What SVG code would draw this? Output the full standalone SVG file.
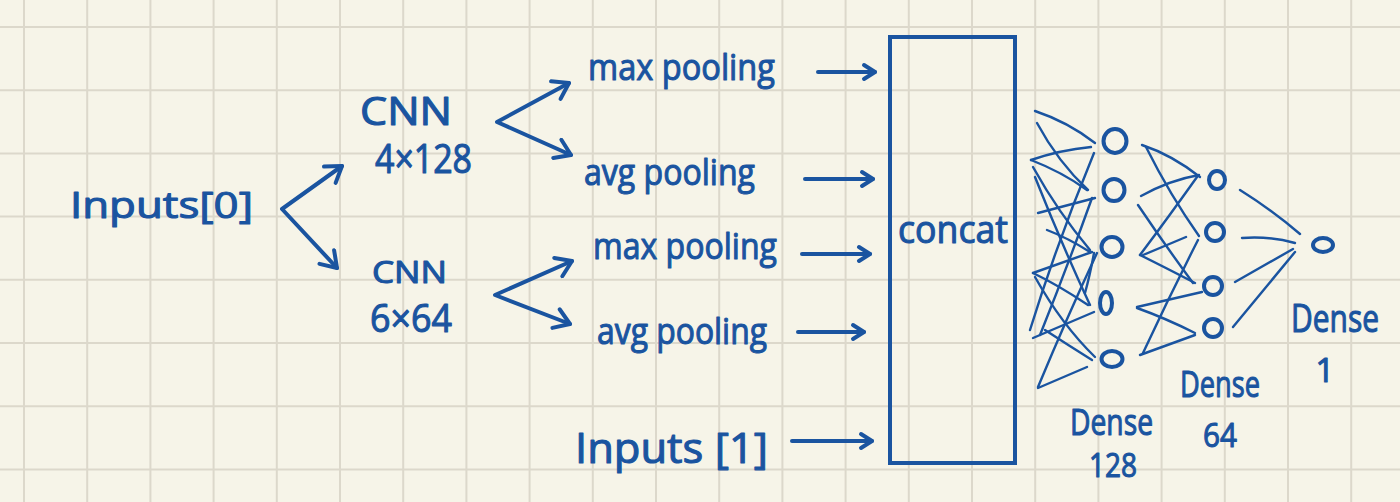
<svg xmlns="http://www.w3.org/2000/svg" width="1400" height="502" viewBox="0 0 1400 502">
<defs>
<style>
.grid line{stroke:#dcd8cb;stroke-width:2}
.ink{fill:none;stroke:#1a54a0;stroke-linecap:round;stroke-linejoin:round}
.arr{stroke-width:4}
.net{stroke-width:2.4}
.node{fill:none;stroke:#1a54a0;stroke-width:4}
text{font-family:"Open Sans","Liberation Sans",sans-serif;fill:#1a54a0;stroke:#1a54a0;stroke-width:1.1;stroke-linejoin:round}
</style>
<marker id="big" markerUnits="userSpaceOnUse" viewBox="0 0 24 24" refX="20" refY="12" markerWidth="24" markerHeight="24" orient="auto-start-reverse">
<path d="M5,2 L20,12 L5,22" fill="none" stroke="#1a54a0" stroke-width="4" stroke-linecap="round" stroke-linejoin="round"/>
</marker>
<marker id="small" markerUnits="userSpaceOnUse" viewBox="0 0 20 20" refX="16" refY="10" markerWidth="20" markerHeight="20" orient="auto">
<path d="M5,3 L16,10 L5,17" fill="none" stroke="#1a54a0" stroke-width="4" stroke-linecap="round" stroke-linejoin="round"/>
</marker>
</defs>
<rect width="1400" height="502" fill="#f6f4e8"/>
<g class="grid">
<line x1="24" y1="0" x2="24" y2="502"/><line x1="87.2" y1="0" x2="87.2" y2="502"/><line x1="150.4" y1="0" x2="150.4" y2="502"/><line x1="213.6" y1="0" x2="213.6" y2="502"/><line x1="276.8" y1="0" x2="276.8" y2="502"/><line x1="340" y1="0" x2="340" y2="502"/><line x1="403.2" y1="0" x2="403.2" y2="502"/><line x1="466.4" y1="0" x2="466.4" y2="502"/><line x1="529.6" y1="0" x2="529.6" y2="502"/><line x1="592.8" y1="0" x2="592.8" y2="502"/><line x1="656" y1="0" x2="656" y2="502"/><line x1="719.2" y1="0" x2="719.2" y2="502"/><line x1="782.4" y1="0" x2="782.4" y2="502"/><line x1="845.6" y1="0" x2="845.6" y2="502"/><line x1="908.8" y1="0" x2="908.8" y2="502"/><line x1="972" y1="0" x2="972" y2="502"/><line x1="1035.2" y1="0" x2="1035.2" y2="502"/><line x1="1098.4" y1="0" x2="1098.4" y2="502"/><line x1="1161.6" y1="0" x2="1161.6" y2="502"/><line x1="1224.8" y1="0" x2="1224.8" y2="502"/><line x1="1288" y1="0" x2="1288" y2="502"/><line x1="1351.2" y1="0" x2="1351.2" y2="502"/>
<line x1="0" y1="27" x2="1400" y2="27"/><line x1="0" y1="90.2" x2="1400" y2="90.2"/><line x1="0" y1="153.4" x2="1400" y2="153.4"/><line x1="0" y1="216.6" x2="1400" y2="216.6"/><line x1="0" y1="279.8" x2="1400" y2="279.8"/><line x1="0" y1="343" x2="1400" y2="343"/><line x1="0" y1="406.2" x2="1400" y2="406.2"/><line x1="0" y1="469.4" x2="1400" y2="469.4"/>
</g>

<g id="inputs0"><text x="70" y="218" font-size="36" textLength="183" lengthAdjust="spacingAndGlyphs">Inputs[0]</text></g>
<g id="cnn1"><text x="360" y="125" font-size="38" textLength="92" lengthAdjust="spacingAndGlyphs">CNN</text><text x="375" y="173" font-size="40" textLength="97" lengthAdjust="spacingAndGlyphs">4×128</text></g>
<g id="cnn2"><text x="372" y="283" font-size="31" textLength="75" lengthAdjust="spacingAndGlyphs">CNN</text><text x="370" y="332" font-size="39" textLength="82" lengthAdjust="spacingAndGlyphs">6×64</text></g>
<g id="maxpool1"><text x="588" y="80" font-size="37" textLength="187" lengthAdjust="spacingAndGlyphs">max pooling</text></g>
<g id="avgpool1"><text x="584" y="185" font-size="37" textLength="171" lengthAdjust="spacingAndGlyphs">avg pooling</text></g>
<g id="maxpool2"><text x="593" y="259" font-size="37" textLength="184" lengthAdjust="spacingAndGlyphs">max pooling</text></g>
<g id="avgpool2"><text x="597" y="344" font-size="37" textLength="170" lengthAdjust="spacingAndGlyphs">avg pooling</text></g>
<g id="inputs1"><text x="575" y="463" font-size="42" textLength="193" lengthAdjust="spacingAndGlyphs">Inputs [1]</text></g>
<g id="concat"><rect x="890" y="37" width="125" height="426" fill="none" stroke="#1a54a0" stroke-width="4"/><text x="898" y="243" font-size="38" textLength="110" lengthAdjust="spacingAndGlyphs">concat</text></g>

<g id="dense128">
<ellipse class="node" cx="1115" cy="141" rx="11.5" ry="12"/>
<ellipse class="node" cx="1114" cy="190" rx="10.5" ry="11"/>
<ellipse class="node" cx="1112" cy="247" rx="10.5" ry="10"/>
<ellipse class="node" cx="1106" cy="303" rx="6" ry="11"/>
<ellipse class="node" cx="1112" cy="359" rx="10.5" ry="8"/>
<text x="1070" y="435" font-size="37" textLength="83" lengthAdjust="spacingAndGlyphs">Dense</text><text x="1089" y="477" font-size="33" textLength="48" lengthAdjust="spacingAndGlyphs">128</text>
</g>
<g id="dense64">
<ellipse class="node" cx="1217" cy="180" rx="8" ry="9"/>
<ellipse class="node" cx="1215" cy="232" rx="9" ry="9"/>
<ellipse class="node" cx="1213" cy="286" rx="9" ry="9"/>
<ellipse class="node" cx="1213" cy="328" rx="9" ry="9"/>
<text x="1180" y="397" font-size="37" textLength="80" lengthAdjust="spacingAndGlyphs">Dense</text><text x="1203" y="447" font-size="33" textLength="34" lengthAdjust="spacingAndGlyphs">64</text>
</g>
<g id="dense1">
<ellipse class="node" cx="1323" cy="245" rx="10" ry="7"/>
<text x="1291" y="332" font-size="38" textLength="88" lengthAdjust="spacingAndGlyphs">Dense</text><text x="1325" y="382" font-size="33" text-anchor="middle">1</text>
</g>

<g id="connectors" class="ink">
<path class="arr" d="M342,166 L282,209 L337,268" marker-start="url(#big)" marker-end="url(#big)"/>
<path class="arr" d="M569,83 L497,122 L571,155" marker-start="url(#big)" marker-end="url(#big)"/>
<path class="arr" d="M572,261 L495,295 L570,324" marker-start="url(#big)" marker-end="url(#big)"/>
<path class="arr" d="M818,72 L875,72" marker-end="url(#small)"/>
<path class="arr" d="M805,179 L873,179" marker-end="url(#small)"/>
<path class="arr" d="M802,254 L870,254" marker-end="url(#small)"/>
<path class="arr" d="M798,332 L864,332" marker-end="url(#small)"/>
<path class="arr" d="M792,441 L872,441" marker-end="url(#small)"/>

<path class="net" d="M1035,111 Q1068,122 1095,143"/>
<path class="net" d="M1037,123 Q1058,162 1088,190"/>
<path class="net" d="M1031,160 Q1060,150 1091,147"/>
<path class="net" d="M1031,160 Q1062,172 1087,190"/>
<path class="net" d="M1033,167 Q1058,212 1090,250"/>
<path class="net" d="M1030,330 Q1058,240 1094,153"/>
<path class="net" d="M1038,213 L1095,198"/>
<path class="net" d="M1047,230 Q1068,238 1090,252"/>
<path class="net" d="M1035,177 Q1062,245 1090,305"/>
<path class="net" d="M1033,273 L1092,252"/>
<path class="net" d="M1035,277 Q1062,325 1095,357"/>
<path class="net" d="M1033,273 Q1058,285 1088,305"/>
<path class="net" d="M1092,198 Q1068,265 1040,335"/>
<path class="net" d="M1033,338 L1094,312"/>
<path class="net" d="M1038,388 L1087,367"/>
<path class="net" d="M1038,387 Q1068,315 1097,253"/>
<path class="net" d="M1045,330 Q1068,345 1092,360"/>
<path class="net" d="M1094,253 Q1090,275 1085,293"/>

<path class="net" d="M1142,145 Q1172,155 1200,177"/>
<path class="net" d="M1146,147 Q1170,195 1199,236"/>
<path class="net" d="M1141,196 Q1170,180 1199,175"/>
<path class="net" d="M1138,205 Q1165,245 1193,283"/>
<path class="net" d="M1140,255 Q1170,215 1197,177"/>
<path class="net" d="M1143,255 L1186,237"/>
<path class="net" d="M1140,255 Q1170,270 1195,283"/>
<path class="net" d="M1137,307 L1202,292"/>
<path class="net" d="M1137,308 Q1165,318 1195,333"/>
<path class="net" d="M1140,355 L1195,335"/>
<path class="net" d="M1143,353 Q1170,295 1198,240"/>

<path class="net" d="M1240,190 Q1272,210 1300,234"/>
<path class="net" d="M1242,238 Q1270,236 1295,243"/>
<path class="net" d="M1235,282 L1293,249"/>
<path class="net" d="M1233,327 L1295,252"/>
</g>
</svg>
